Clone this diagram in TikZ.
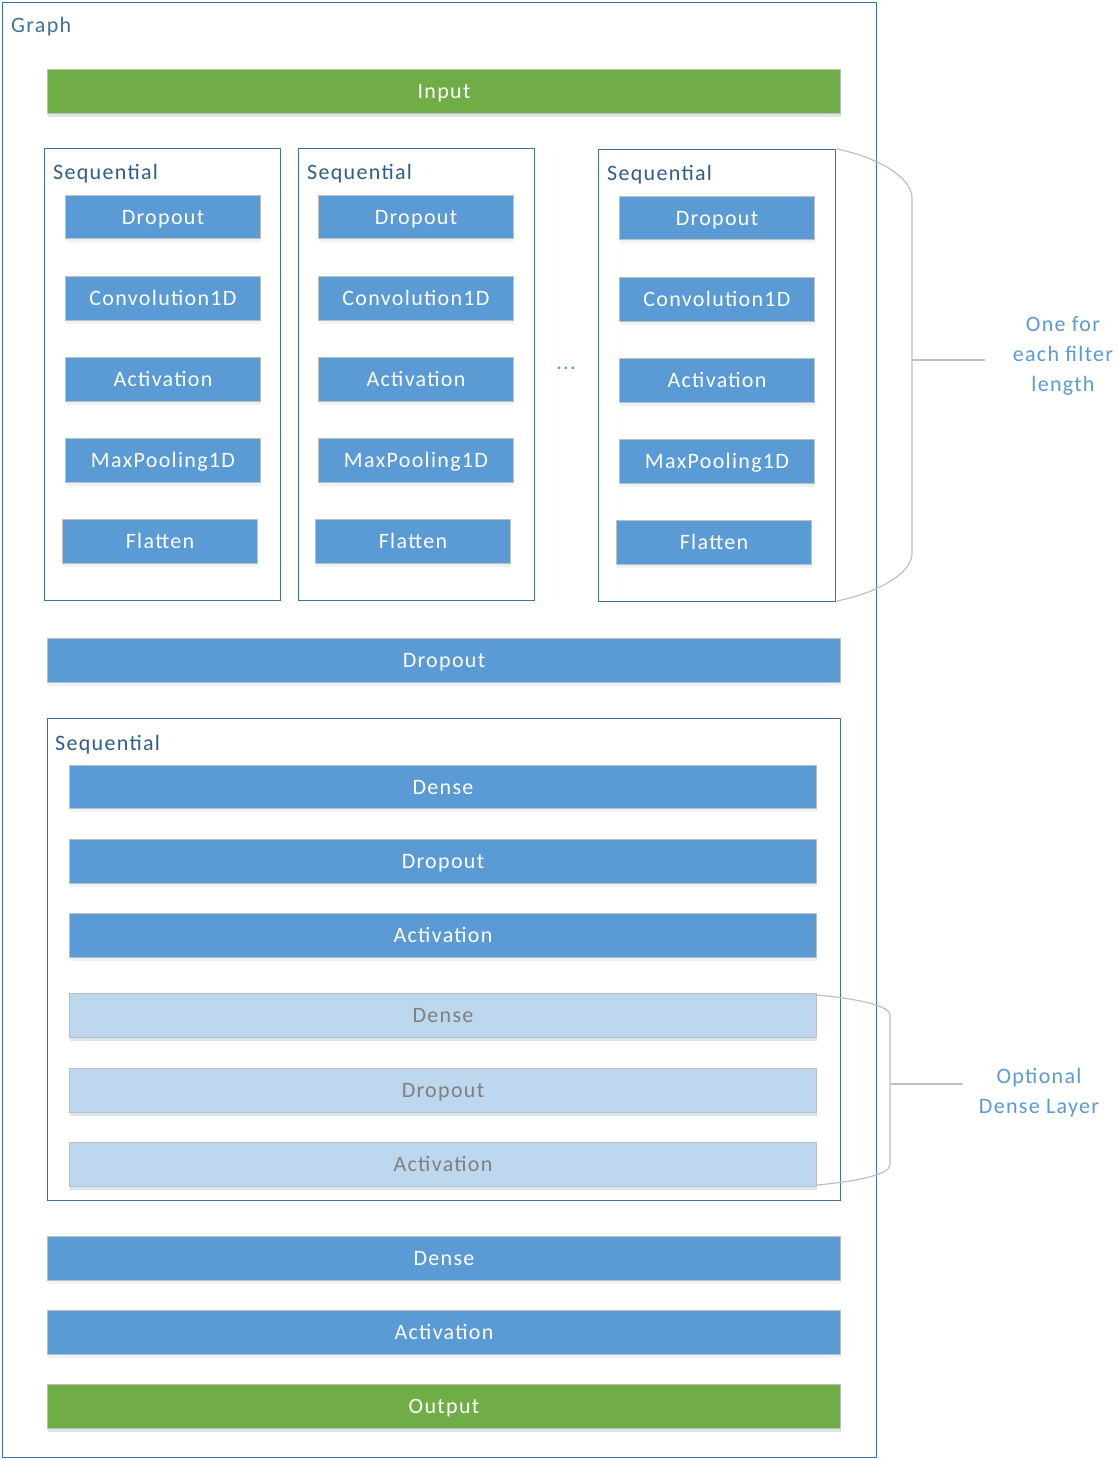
\documentclass[tikz,border=0pt]{standalone}
\usepackage{fontspec}
\setmainfont{Carlito}[LetterSpace=6]
\usetikzlibrary{shadows}
\definecolor{frameblue}{HTML}{41719C}
\definecolor{seqtext}{HTML}{2F5D8C}
\definecolor{boxblue}{HTML}{5B9BD5}
\definecolor{boxgreen}{HTML}{70AD47}
\definecolor{boxlight}{HTML}{BDD7EE}
\definecolor{edgegrey}{HTML}{BFBFBF}
\definecolor{lighttext}{HTML}{7F7F7F}
\definecolor{annot}{HTML}{5B9BD5}
\begin{document}
\begin{tikzpicture}[x=1pt,y=-1pt,
  font=\fontsize{22}{26}\selectfont,
  dims/.style 2 args={minimum width=#1pt, minimum height=#2pt},
  layer/.style={draw=edgegrey, line width=1pt, fill=boxblue, text=white,
    anchor=north west, inner sep=0pt, text height=14pt, text depth=0pt,
    drop shadow={opacity=0.12, shadow xshift=0pt, shadow yshift=-3pt, fill=boxblue}},
  greenlayer/.style={layer, fill=boxgreen,
    drop shadow={opacity=0.12, shadow xshift=0pt, shadow yshift=-3pt, fill=boxgreen}},
  optlayer/.style={layer, fill=boxlight, text=lighttext,
    drop shadow={opacity=0.15, shadow xshift=0pt, shadow yshift=-3pt, fill=boxblue}},
  frame/.style={draw=frameblue, line width=1.4pt, anchor=north west, inner sep=0pt},
  seqlabel/.style={text=seqtext, anchor=base west, inner sep=0pt},
  brace/.style={draw=edgegrey, line width=1.2pt},
  annottext/.style={text=annot, align=center, font=\fontsize{22}{30}\selectfont}
]
\useasboundingbox (0,0) rectangle (1117,1459);
\fill[white] (0,0) rectangle (1117,1459);

% outer graph frame
\node[frame, dims={874}{1455}] (graph) at (2,2) {};
\node[seqlabel, text=frameblue] (graphlbl) at (11,32) {Graph};

\node[greenlayer, dims={793}{44}] (input) at (47,69) {Input};

% sequential 1
\node[frame, dims={236}{452}] (seqA) at (44,148) {};
\node[seqlabel] (seqAl) at (53,179) {Sequential};
\node[layer, dims={195}{43}] (dropA) at (65,195) {Dropout};
\node[layer, dims={195}{44}] (convA) at (65,276) {Convolution1D};
\node[layer, dims={195}{44}] (actA) at (65,357) {Activation};
\node[layer, dims={195}{44}] (poolA) at (65,438) {MaxPooling1D};
\node[layer, dims={195}{44}] (flatA) at (62,519) {Flatten};

% sequential 2
\node[frame, dims={236}{452}] (seqB) at (298,148) {};
\node[seqlabel] (seqBl) at (307,179) {Sequential};
\node[layer, dims={195}{43}] (dropB) at (318,195) {Dropout};
\node[layer, dims={195}{44}] (convB) at (318,276) {Convolution1D};
\node[layer, dims={195}{44}] (actB) at (318,357) {Activation};
\node[layer, dims={195}{44}] (poolB) at (318,438) {MaxPooling1D};
\node[layer, dims={195}{44}] (flatB) at (315,519) {Flatten};

\node[text=annot, anchor=base, inner sep=0pt] (dots) at (566,369) {...};

% sequential 3
\node[frame, dims={237}{452}] (seqC) at (598,149) {};
\node[seqlabel] (seqCl) at (607,180) {Sequential};
\node[layer, dims={195}{43}] (dropC) at (619,196) {Dropout};
\node[layer, dims={195}{44}] (convC) at (619,277) {Convolution1D};
\node[layer, dims={195}{44}] (actC) at (619,358) {Activation};
\node[layer, dims={195}{44}] (poolC) at (619,439) {MaxPooling1D};
\node[layer, dims={195}{44}] (flatC) at (616,520) {Flatten};

% brace 1
\coordinate (b1top) at (837,149);
\coordinate (b1bot) at (837,601);
\coordinate (b1mid) at (912,360);
\coordinate (b1end) at (985,360);
\draw[brace] (b1top) .. controls (880,158) and (912,178) .. (912,198)
  -- (912,553) .. controls (912,573) and (880,592) .. (b1bot);
\draw[brace] (b1mid) -- (b1end);
\node[annottext] (note1) at (1063,356) {One for\\each filter\\length};

\node[layer, dims={793}{44}] (drop2) at (47,638) {Dropout};

% dense sequential
\node[frame, dims={793}{482}] (seqD) at (47,718) {};
\node[seqlabel] (seqDl) at (55,750) {Sequential};
\node[layer, dims={747}{43}] (dense1) at (69,765) {Dense};
\node[layer, dims={747}{44}] (drop3) at (69,839) {Dropout};
\node[layer, dims={747}{44}] (act3) at (69,913) {Activation};
\node[optlayer, dims={747}{44}] (dense2) at (69,993) {Dense};
\node[optlayer, dims={747}{44}] (drop4) at (69,1068) {Dropout};
\node[optlayer, dims={747}{44}] (act4) at (69,1142) {Activation};

% brace 2
\coordinate (b2top) at (817,995);
\coordinate (b2bot) at (817,1185);
\coordinate (b2mid) at (890,1084);
\coordinate (b2end) at (963,1084);
\draw[brace] (b2top) .. controls (860,999) and (890,1006) .. (890,1015)
  -- (890,1165) .. controls (890,1174) and (860,1181) .. (b2bot);
\draw[brace] (b2mid) -- (b2end);
\node[annottext] (note2) at (1039,1093) {Optional\\Dense Layer};

\node[layer, dims={793}{44}] (dense3) at (47,1236) {Dense};
\node[layer, dims={793}{44}] (act5) at (47,1310) {Activation};
\node[greenlayer, dims={793}{44}] (output) at (47,1384) {Output};
\end{tikzpicture}
\end{document}
